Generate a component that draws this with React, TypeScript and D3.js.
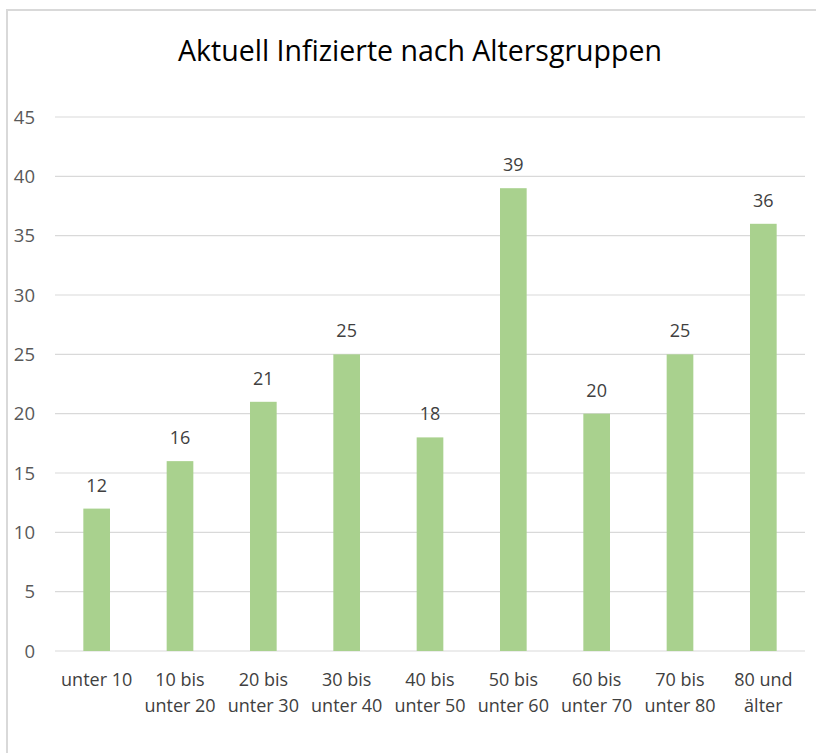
import React from 'react';
import * as d3 from 'd3';

const categories = [
  ['unter 10'],
  ['10 bis', 'unter 20'],
  ['20 bis', 'unter 30'],
  ['30 bis', 'unter 40'],
  ['40 bis', 'unter 50'],
  ['50 bis', 'unter 60'],
  ['60 bis', 'unter 70'],
  ['70 bis', 'unter 80'],
  ['80 und', 'älter'],
];
const values = [12, 16, 21, 25, 18, 39, 20, 25, 36];
const yTicks = [0, 5, 10, 15, 20, 25, 30, 35, 40, 45];
const title = 'Aktuell Infizierte nach Altersgruppen';

const W = 816;
const H = 753;
const plot = { left: 55, right: 805, top: 117, bottom: 651 };
const font = '"Open Sans", sans-serif';

const App = () => {
  const x = d3
    .scaleBand<number>()
    .domain(d3.range(values.length))
    .range([plot.left, plot.right])
    .paddingInner(0.68)
    .paddingOuter(0.34);
  const y = d3.scaleLinear().domain([0, 45]).range([plot.bottom, plot.top]);
  const cx = (i: number) => (x(i) as number) + x.bandwidth() / 2;

  return (
    <svg width={W} height={H} style={{ position: 'absolute', left: 0, top: 0, background: '#fff' }}>
      {/* chart frame: only top and left edges are visible in the crop */}
      <path d={`M7,${H + 5} V10 H${W + 5}`} fill="none" stroke="#d9d9d9" strokeWidth={2} />
      <text x={420} y={61} textAnchor="middle" fontFamily={font} fontSize={28.5} fill="#000">
        {title}
      </text>

      {yTicks.map((t) => (
        <g key={t}>
          <line x1={plot.left} x2={plot.right} y1={y(t)} y2={y(t)} stroke="#d9d9d9" strokeWidth={1.2} />
          <text x={35} y={y(t)} dy="0.36em" textAnchor="end" fontFamily={font} fontSize={18.5} fill="#595959">
            {t}
          </text>
        </g>
      ))}

      {values.map((v, i) => (
        <g key={i}>
          <rect x={x(i)} y={y(v)} width={x.bandwidth()} height={y(0) - y(v)} fill="#a9d18e" />
          <text x={cx(i)} y={y(v) - 17} textAnchor="middle" fontFamily={font} fontSize={18} fill="#404040">
            {v}
          </text>
        </g>
      ))}

      {categories.map((lines, i) => (
        <text key={i} textAnchor="middle" fontFamily={font} fontSize={18} fill="#404040">
          {lines.map((l, j) => (
            <tspan key={j} x={cx(i)} y={686 + j * 26}>
              {l}
            </tspan>
          ))}
        </text>
      ))}
    </svg>
  );
};

export default App;
